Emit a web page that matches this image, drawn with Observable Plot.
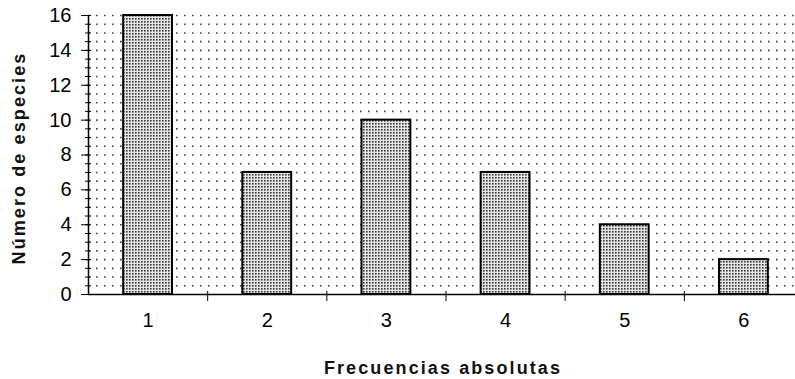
<!DOCTYPE html>
<html>
<head>
<meta charset="utf-8">
<script src="https://cdn.jsdelivr.net/npm/d3@7"></script>
<script src="https://cdn.jsdelivr.net/npm/@observablehq/plot@0.6"></script>
<style>
  html, body { margin: 0; padding: 0; background: #fff; }
  #chart svg { display: block; }
  #chart g[aria-label="text"] { letter-spacing: 2.1px; }
</style>
</head>
<body>
<svg width="0" height="0" style="position:absolute">
  <defs>
    <pattern id="stipple" width="3" height="3" patternUnits="userSpaceOnUse">
      <rect width="3" height="3" fill="#e4e4e4"></rect>
      <rect width="1.6" height="1.6" fill="#3a3a3a"></rect>
    </pattern>
  </defs>
</svg>
<div id="chart"></div>
<script>
// Frequency classes and number of species in each
const classes = [1, 2, 3, 4, 5, 6];
const species = [16, 7, 10, 7, 4, 2];
const yTicks = [0, 2, 4, 6, 8, 10, 12, 14, 16];
const xTitle = "Frecuencias absolutas";
const yTitle = "Número de especies";

const rows = classes.map((c, i) => ({c, n: species[i]}));
const halfWidth = 0.205;
const minorY = d3.range(0, 16.001, 0.5);
const gridY = d3.range(0.5, 16.001, 0.5);
const boundaries = classes.slice(0, -1).map(c => c + 0.5);

const chart = Plot.plot({
  width: 795,
  height: 379,
  marginLeft: 88,
  marginRight: -8,
  marginTop: 15,
  marginBottom: 85,
  style: {fontFamily: "Liberation Sans, Arial, sans-serif", color: "#111"},
  x: {domain: [0.5, 6.5]},
  y: {domain: [0, 16]},
  marks: [
    // dotted background grid
    Plot.ruleY(gridY, {stroke: "#222", strokeWidth: 1.6, strokeDasharray: "1.6,6.4", strokeOpacity: 0.85}),
    // bars
    Plot.rectY(rows, {
      x1: d => d.c - halfWidth,
      x2: d => d.c + halfWidth,
      y: "n",
      fill: "url(#stipple)",
      stroke: "#000",
      strokeWidth: 2
    }),
    // axis lines
    Plot.ruleX([0.5], {stroke: "#000", strokeWidth: 1.5}),
    Plot.ruleY([0], {stroke: "#000", strokeWidth: 1.5}),
    // y axis: minor ticks crossing the line, major ticks with labels
    Plot.axisY(minorY, {tickSize: 6, dx: 3, text: null, label: null, stroke: "#000"}),
    Plot.axisY(yTicks, {tickSize: 7, tickPadding: 10, fontSize: 20, label: null, stroke: "#000"}),
    // x axis: ticks at class boundaries, labels at class centres
    Plot.axisX(boundaries, {tickSize: 10, dy: -3, text: null, label: null, stroke: "#000"}),
    Plot.axisX(classes, {tickSize: 0, tickPadding: 18, fontSize: 20, tickFormat: "d", label: null}),
    // axis titles
    Plot.text([xTitle], {frameAnchor: "bottom", dx: -3, dy: 79, fontSize: 18, fontWeight: "bold", fill: "#111"}),
    Plot.text([yTitle], {frameAnchor: "left", textAnchor: "middle", dx: -69, dy: 3, rotate: -90, fontSize: 18, fontWeight: "bold", fill: "#111"})
  ]
});

// larger, darker tick labels
d3.select(chart).selectAll('g[aria-label$="tick label"]')
  .style("font-size", "20px")
  .style("fill", "#000");
d3.select(chart).selectAll('g[aria-label$="tick label"] text')
  .style("font-size", "20px");

document.getElementById("chart").append(chart);
</script>
</body>
</html>
